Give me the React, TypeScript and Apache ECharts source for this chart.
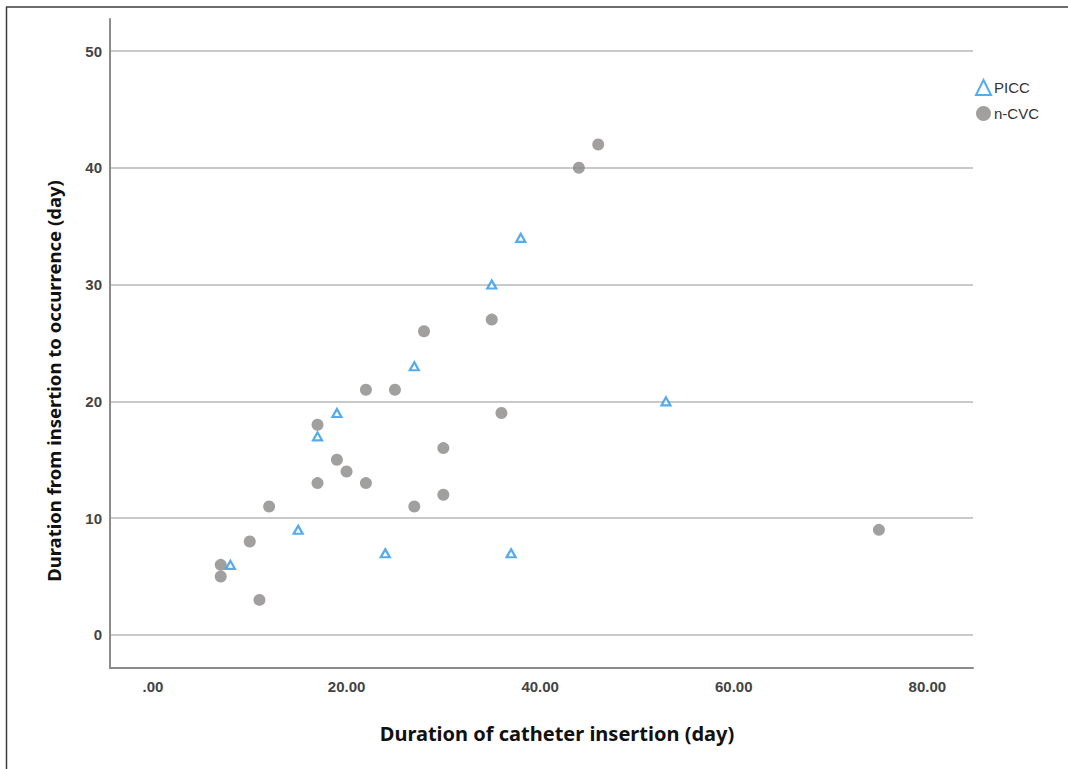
import React, { useEffect, useRef } from "react";
import * as echarts from "echarts";

const piccX = [38, 35, 27, 19, 17, 15, 24, 37, 8, 53];
const piccY = [34, 30, 23, 19, 17, 9, 7, 7, 6, 20];

const cvcX = [44, 46, 28, 35, 22, 25, 36, 17, 19, 20, 17, 22, 30, 30, 27, 12, 10, 7, 7, 11, 75];
const cvcY = [40, 42, 26, 27, 21, 21, 19, 18, 15, 14, 13, 13, 16, 12, 11, 11, 8, 6, 5, 3, 9];

const seriesNames = ["PICC", "n-CVC"];
const xTitle = "Duration of catheter insertion (day)";
const yTitle = "Duration from insertion to occurrence (day)";

const pair = (xs: number[], ys: number[]) => xs.map((x, i) => [x, ys[i]]);

export default function App() {
  const ref = useRef<HTMLDivElement>(null);
  useEffect(() => {
    if (!ref.current) return;
    const chart = echarts.init(ref.current, null, { renderer: "svg" });
    const titleFont = '"Noto Sans", "Open Sans", sans-serif';
    const labelFont = "Arial, 'Liberation Sans', sans-serif";
    chart.setOption({
      animation: false,
      backgroundColor: "#ffffff",
      grid: { left: 110, top: 19, right: 95, bottom: 101, containLabel: false },
      legend: {
        orient: "vertical",
        left: 970,
        top: 74,
        itemWidth: 15,
        itemHeight: 15,
        itemGap: 10,
        textStyle: { fontSize: 15, color: "#333", fontFamily: labelFont, padding: [0, 0, 0, -2] },
        data: seriesNames,
      },
      xAxis: {
        type: "value",
        min: -4.44,
        max: 84.72,
        minInterval: 20,
        maxInterval: 20,
        axisLine: { show: true, onZero: false, lineStyle: { color: "#8c8c8c", width: 2 } },
        axisTick: { show: false },
        splitLine: { show: false },
        axisLabel: {
          showMinLabel: false,
          showMaxLabel: false,
          margin: 11,
          fontSize: 15,
          fontWeight: "bold",
          color: "#444",
          fontFamily: labelFont,
          formatter: (v: number) => (v === 0 ? ".00" : v.toFixed(2)),
        },
      },
      yAxis: {
        type: "value",
        min: -2.83,
        max: 52.74,
        minInterval: 10,
        maxInterval: 10,
        axisLine: { show: true, onZero: false, lineStyle: { color: "#8c8c8c", width: 2 } },
        axisTick: { show: false },
        splitLine: { show: true, showMinLine: false, showMaxLine: false, lineStyle: { color: "#c9c9c9", width: 2 } },
        axisLabel: {
          showMinLabel: false,
          showMaxLabel: false,
          margin: 8,
          fontSize: 15,
          fontWeight: "bold",
          color: "#444",
          fontFamily: labelFont,
        },
      },
      graphic: [
        { type: "line", shape: { x1: 6, y1: 7, x2: 1068, y2: 7 }, style: { stroke: "#3c3c3c", lineWidth: 1.5 } },
        { type: "line", shape: { x1: 6.5, y1: 7, x2: 6.5, y2: 769 }, style: { stroke: "#3c3c3c", lineWidth: 1.5 } },
        {
          type: "text",
          x: 557,
          y: 733,
          style: { text: xTitle, fontSize: 20, fontWeight: "bold", fill: "#111", fontFamily: titleFont, align: "center", verticalAlign: "middle" },
        },
        {
          type: "text",
          x: 53,
          y: 381,
          rotation: Math.PI / 2,
          style: { text: yTitle, fontSize: 18.5, fontWeight: "bold", fill: "#111", fontFamily: titleFont, align: "center", verticalAlign: "middle" },
        },
      ],
      series: [
        {
          name: seriesNames[0],
          type: "scatter",
          symbol: "triangle",
          symbolSize: [9, 8],
          itemStyle: { color: "#ffffff", borderColor: "#2c96e6", borderWidth: 2.2 },
          data: pair(piccX, piccY),
          z: 3,
        },
        {
          name: seriesNames[1],
          type: "scatter",
          symbol: "circle",
          symbolSize: 12,
          itemStyle: { color: "#8b8787" },
          data: pair(cvcX, cvcY),
          z: 2,
        },
      ],
    });
    return () => chart.dispose();
  }, []);
  return <div ref={ref} style={{ position: "absolute", left: 0, top: 0, width: 1068, height: 769 }} />;
}
